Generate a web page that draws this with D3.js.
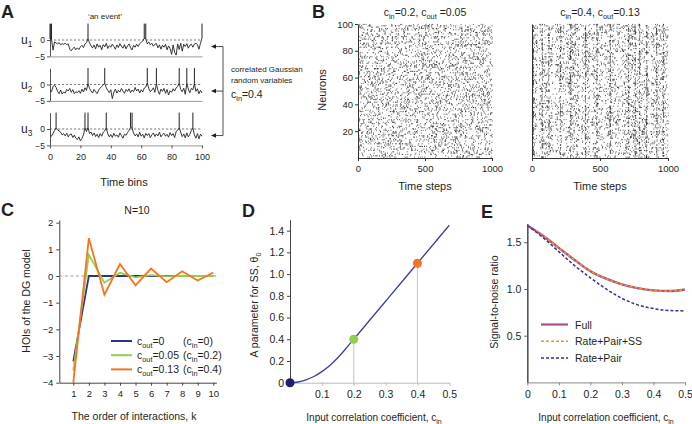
<!DOCTYPE html>
<html><head><meta charset="utf-8">
<script src="https://cdn.jsdelivr.net/npm/d3@7"></script>
<style>body{margin:0;background:#fff}svg{display:block}text{font-family:"Liberation Sans",Arial,Helvetica,sans-serif}</style>
</head><body><svg id="c" width="692" height="424"></svg>
<script>
// ---------------- DATA ----------------
// Panel A: Gaussian variables u1,u2,u3 over 101 time bins
const timeBins = d3.range(0, 101);
const u1 = [0.3,0.2,-3.1,-0.6,-0.9,-1.2,-0.8,-1.5,-1.1,-1.3,
  -1.0,-1.4,-1.2,-2.8,-3.3,-2.6,-2.2,-3.0,-2.4,-2.9,
  -2.1,-1.6,-2.3,-1.2,-0.8,0.4,-0.9,-1.8,-2.4,-1.5,
  -2.7,-1.2,-2.2,-1.6,-3.0,-1.4,-2.1,-1.0,-2.6,-1.7,
  -2.2,-1.3,-2.0,-2.8,-1.5,-2.3,-1.1,-1.9,-2.5,-1.4,
  -2.7,-1.8,-1.2,-2.4,-3.0,-1.6,-2.2,-1.3,-2.0,-1.1,
  -0.7,-0.3,0.5,0.4,-1.2,-0.6,-1.5,-1.0,-1.9,-1.3,
  -1.1,-2.4,-1.5,-2.8,-1.6,-2.2,-1.3,-3.0,-1.8,-2.6,
  -4.4,-1.5,-3.8,-4.6,-1.2,-2.9,-1.0,-3.4,-1.3,-2.0,
  -1.1,-2.5,-1.6,-1.3,-2.2,-1.2,-1.0,-1.4,-2.8,-1.0,
  0.6];
const u2 = [-1.8,-2.2,-0.6,-0.2,-0.9,-2.1,-2.8,-1.7,-2.9,-2.3,
  -2.6,-1.5,-2.0,-1.2,-2.4,-1.6,-2.8,-2.2,-2.5,-1.9,
  -2.7,-1.4,-2.3,-1.0,-1.8,0.3,-1.2,-2.0,-2.6,-1.5,
  -2.2,-2.8,-1.7,-1.1,-0.6,-0.2,0.4,-1.0,-1.8,-2.5,
  -1.6,-4.3,-2.4,-1.4,-2.6,-1.8,-2.3,-1.2,-2.0,-2.7,
  -1.5,-2.1,-1.3,-2.5,-1.7,-2.2,-0.9,-2.0,-1.4,-2.6,
  -1.6,-2.3,-1.1,-0.8,0.5,-1.3,-2.2,-1.7,-1.0,-2.4,
  0.2,-1.8,-3.0,-1.4,-2.1,-1.2,-2.7,-1.5,-3.2,-1.9,
  -2.4,-1.3,-2.0,-1.0,-0.6,0.4,-1.5,-2.2,-1.1,-3.0,
  0.3,-1.4,-2.5,-1.2,-1.6,0.2,-2.1,-1.3,-2.8,-1.8,
  -2.6];
const u3 = [-2.0,-2.2,-1.3,-0.5,0.4,-0.3,-0.6,-1.0,-1.8,-1.4,
  -2.1,-1.3,-2.4,-1.7,-1.5,-2.6,-1.9,-2.8,-3.2,-2.4,
  -3.6,-2.9,-1.8,0.3,-0.8,0.5,-1.4,-0.9,-2.0,-1.2,
  -2.3,-1.6,-2.6,-1.4,-2.2,-1.0,-0.6,0.4,-1.5,-2.4,
  -1.7,-2.6,-1.3,-2.2,-1.8,-2.5,-1.2,-2.0,-2.8,-1.6,
  -1.9,-1.1,-0.4,0.5,0.3,-1.3,-2.1,-1.5,-2.4,-1.0,
  -2.2,-1.6,-2.7,-1.3,-2.0,-1.4,-2.6,-1.8,-1.2,-2.3,
  -1.5,-2.1,-1.0,-2.4,-1.7,-1.3,-2.2,-1.6,-2.5,-1.1,
  -2.0,-1.4,-2.6,-0.8,-0.3,0.4,-1.0,-2.3,-1.5,-2.7,
  -1.2,-2.4,-1.6,-0.5,0.3,-1.8,-2.8,-1.4,-3.0,-1.6,
  -2.2];
const uNames = ["1", "2", "3"];
const uTicks = [0, -5];
const timeTicksA = [0, 20, 40, 60, 80, 100];
const threshold = 0;

// Panel B: raster plots
const neuronIds = d3.range(1, 101);
const nSteps = 1000;
const neuronTicks = [20, 40, 60, 80, 100];
const stepTicks = [0, 500, 1000];
const rateLeft = 0.034;       // spikes per step (left raster)
const rateRight = 0.032;      // background rate (right raster)
const syncTimesRight = [2, 8, 72, 122, 207, 282, 390, 475, 573, 707, 756, 788, 841, 915, 963]; // synchronous columns
const quietTimesRight = [45, 160, 240, 354, 430, 524, 646, 866]; // near-silent columns
const syncRate = 0.18;
const quietRate = 0.008;

// Panel C: higher-order interactions
const orders = [1, 2, 3, 4, 5, 6, 7, 8, 9, 10];
const hoiCout0 = [-3.2, 0, 0, 0, 0, 0, 0, 0, 0, 0];
const hoiCout005 = [-3.55, 0.8, -0.25, 0.12, -0.05, 0.03, -0.01, 0.01, 0, 0];
const hoiCout013 = [-4.0, 1.42, -0.7, 0.45, -0.35, 0.28, -0.23, 0.18, -0.17, 0.13];
const hoiTicks = [-4, -3, -2, -1, 0, 1, 2];
const legendC = [["0", "0"], ["0.05", "0.2"], ["0.13", "0.4"]];

// Panel D: theta0 vs c_in
const cinD = [0, 0.025, 0.05, 0.075, 0.1, 0.125, 0.15, 0.175, 0.2, 0.25, 0.3, 0.35, 0.4, 0.45, 0.5];
const theta0 = [0, 0.0064, 0.0255, 0.057, 0.102, 0.159, 0.23, 0.3125, 0.4, 0.575, 0.75, 0.925, 1.1, 1.275, 1.45];
const markCin = [0, 0.2, 0.4];
const markTheta = [0, 0.4, 1.1];
const thetaTicks = [0, 0.2, 0.4, 0.6, 0.8, 1.0, 1.2, 1.4];
const cinTicksD = [0.1, 0.2, 0.3, 0.4, 0.5];

// Panel E: signal-to-noise ratio
const cinE = [0, 0.05, 0.1, 0.15, 0.2, 0.25, 0.3, 0.35, 0.4, 0.45, 0.5];
const snrFull = [1.68, 1.57, 1.44, 1.31, 1.19, 1.11, 1.05, 1.01, 0.985, 0.978, 0.995];
const snrRatePairSS = [1.68, 1.57, 1.44, 1.31, 1.19, 1.11, 1.05, 1.01, 0.985, 0.978, 0.995];
const snrRatePair = [1.68, 1.55, 1.40, 1.25, 1.12, 1.0, 0.9, 0.83, 0.79, 0.77, 0.765];
const snrTicks = [0.5, 1.0, 1.5];
const cinTicksE = [0, 0.1, 0.2, 0.3, 0.4, 0.5];
const legendE = ["Full", "Rate+Pair+SS", "Rate+Pair"];

// ---------------- DRAWING ----------------
const svg = d3.select("#c");
const INK = "#231f20", AX = "#555";
const BLUE = "#2e3192", GREEN = "#92cf4f", ORANGE = "#f47421", PURPLE = "#a4508f", ORANGE2 = "#f7941d";

function rich(g, x, y, parts, o = {}) {
  const size = o.size || 10;
  const t = g.append("text").attr("x", x).attr("y", y)
    .attr("text-anchor", o.anchor || "start").attr("font-size", size).attr("fill", o.fill || INK);
  if (o.rotate) t.attr("transform", `rotate(${o.rotate},${x},${y})`);
  let shift = 0;
  parts.forEach(p => {
    const isSub = p[1] === "sub";
    const s = t.append("tspan").text(p[0]);
    const target = isSub ? size * 0.25 : 0;
    if (target !== shift) { s.attr("dy", target - shift); shift = target; }
    if (isSub) s.attr("font-size", size * 0.7);
  });
  return t;
}
function panelLabel(x, y, s) {
  svg.append("text").attr("x", x).attr("y", y).attr("font-size", 18).attr("font-weight", "bold").attr("fill", INK).text(s);
}
function styleAxis(g, fs, col) {
  g.selectAll(".domain").attr("stroke", col || AX).attr("stroke-width", 1);
  g.selectAll(".tick line").attr("stroke", col || AX);
  g.selectAll(".tick text").attr("font-size", fs).attr("fill", INK).style("font-family", '"Liberation Sans",Arial,sans-serif');
}

// ===== Panel A =====
panelLabel(1, 18, "A");
const xA = d3.scaleLinear().domain([0, 100]).range([50, 202]);
const zeroA = [40, 84.5, 129];
const traces = [u1, u2, u3];
traces.forEach((vals, i) => {
  const y = d3.scaleLinear().domain([-5, 5]).range([zeroA[i] + 16.4, zeroA[i] - 16.4]);
  const g = svg.append("g");
  const la = g.append("g").attr("transform", `translate(${xA(0)},0)`)
    .call(d3.axisLeft(y).tickValues(uTicks).tickSize(3).tickSizeOuter(0).tickPadding(2));
  styleAxis(la, 8.5);
  const ba = g.append("g").attr("transform", `translate(0,${y(-5)})`)
    .call(i === 2 ? d3.axisBottom(xA).tickValues(timeTicksA).tickSize(3).tickSizeOuter(0).tickPadding(5)
                  : d3.axisBottom(xA).tickValues([]).tickSizeOuter(0));
  styleAxis(ba, 9);
  ba.select(".domain").attr("stroke", "#999");
  g.append("line").attr("x1", xA(0)).attr("x2", xA(100)).attr("y1", y(threshold)).attr("y2", y(threshold))
    .attr("stroke", "#444").attr("stroke-width", 0.7).attr("stroke-dasharray", "2.2,1.8");
  g.append("path").datum(vals).attr("fill", "none").attr("stroke", INK).attr("stroke-width", 0.9)
    .attr("d", d3.line().x((d, k) => xA(timeBins[k])).y(d => y(d)));
  g.selectAll("line.ev").data(timeBins.filter(k => vals[k] > threshold)).join("line")
    .attr("x1", k => xA(k)).attr("x2", k => xA(k)).attr("y1", k => y(vals[k])).attr("y2", y(5))
    .attr("stroke", INK).attr("stroke-width", 1);
  rich(g, 21, zeroA[i] + 4, [["u"], [uNames[i], "sub"]], { size: 12 });
  const ay = y(-2);
  g.append("line").attr("x1", 223).attr("x2", 215).attr("y1", ay).attr("y2", ay).attr("stroke", INK).attr("stroke-width", 0.8);
  g.append("path").attr("d", `M211,${ay}L216,${ay - 2.2}L216,${ay + 2.2}Z`).attr("fill", INK);
});
{
  const yTop = d3.scaleLinear().domain([-5, 5]).range([zeroA[0] + 16.4, zeroA[0] - 16.4])(-2);
  const yBot = d3.scaleLinear().domain([-5, 5]).range([zeroA[2] + 16.4, zeroA[2] - 16.4])(-2);
  svg.append("line").attr("x1", 223).attr("x2", 223).attr("y1", yTop).attr("y2", yBot).attr("stroke", INK).attr("stroke-width", 0.8);
}
svg.append("text").attr("x", 105).attr("y", 19).attr("text-anchor", "middle").attr("font-size", 8).attr("fill", INK).text("\u2018an event\u2019");
svg.append("text").attr("x", 124).attr("y", 186).attr("text-anchor", "middle").attr("font-size", 11).attr("fill", INK).text("Time bins");
svg.append("text").attr("x", 231).attr("y", 72).attr("font-size", 8).attr("fill", INK).text("correlated Gaussian");
svg.append("text").attr("x", 231).attr("y", 83).attr("font-size", 8).attr("fill", INK).text("random variables");
rich(svg, 231, 98, [["c"], ["in", "sub"], ["=0.4"]], { size: 10.5 });

// ===== Panel B =====
panelLabel(312, 18, "B");
function texture(seed) { // deterministic spike texture generator
  let a = seed >>> 0;
  return () => { a = (a + 0x6D2B79F5) >>> 0; let t = a; t = Math.imul(t ^ (t >>> 15), t | 1); t ^= t + Math.imul(t ^ (t >>> 7), t | 61); return ((t ^ (t >>> 14)) >>> 0) / 4294967296; };
}
function raster(x0, x1, showY, title, rate, syncTimes, quietTimes, seed) {
  const xs = d3.scaleLinear().domain([0, nSteps]).range([x0, x1]);
  const ys = d3.scaleLinear().domain([0, 100]).range([158, 24]);
  const g = svg.append("g");
  const rnd = texture(seed);
  const spikes = [];
  const syncSet = new Set(), quietSet = new Set();
  syncTimes.forEach(t => { for (let k = -2; k <= 2; k++) syncSet.add(t + k); });
  quietTimes.forEach(t => { for (let k = -6; k <= 6; k++) quietSet.add(t + k); });
  for (let t = 0; t < nSteps; t++) {
    const p = syncSet.has(t) ? syncRate : (quietSet.has(t) ? quietRate : rate);
    neuronIds.forEach(n => { if (rnd() < p) spikes.push([t, n]); });
  }
  g.selectAll("rect").data(spikes).join("rect")
    .attr("x", d => xs(d[0])).attr("y", d => ys(d[1]) - 0.1).attr("width", 0.8).attr("height", 1.15)
    .attr("fill", "#111").attr("fill-opacity", 0.75);
  const ba = g.append("g").attr("transform", `translate(0,158)`)
    .call(d3.axisBottom(xs).tickValues(stepTicks).tickSize(3).tickSizeOuter(0).tickPadding(4).tickFormat(d3.format("d")));
  styleAxis(ba, 9.5, "#333");
  const la = g.append("g").attr("transform", `translate(${x0},0)`)
    .call(d3.axisLeft(ys).tickValues(showY ? neuronTicks : []).tickSize(3).tickSizeOuter(0).tickPadding(2));
  styleAxis(la, 9.5, "#333");
  g.append("text").attr("x", (x0 + x1) / 2).attr("y", 190).attr("text-anchor", "middle").attr("font-size", 11).attr("fill", INK).text("Time steps");
  rich(g, (x0 + x1) / 2, 16, title, { size: 10.5, anchor: "middle" });
}
raster(358, 492, true, [["c"], ["in", "sub"], ["=0.2, c"], ["out", "sub"], [" =0.05"]], rateLeft, [], [], 12345);
raster(532, 668, false, [["c"], ["in", "sub"], ["=0.4, c"], ["out", "sub"], ["=0.13"]], rateRight, syncTimesRight, quietTimesRight, 987);
svg.append("text").attr("x", 326).attr("y", 90).attr("text-anchor", "middle").attr("font-size", 11).attr("fill", INK)
  .attr("transform", "rotate(-90,326,90)").text("Neurons");

// ===== Panel C =====
panelLabel(1, 216, "C");
{
  const xs = d3.scaleLinear().domain([0.1, 10.2]).range([59.3, 216.4]);
  const ys = d3.scaleLinear().domain([-4, 2.1]).range([382.7, 220]);
  const g = svg.append("g");
  const la = g.append("g").attr("transform", `translate(${xs(0.1)},0)`)
    .call(d3.axisLeft(ys).tickValues(hoiTicks).tickSize(3).tickSizeOuter(0).tickPadding(3).tickFormat(d3.format("d")));
  styleAxis(la, 9.5, "#444");
  const ba = g.append("g").attr("transform", `translate(0,${ys(-4)})`)
    .call(d3.axisBottom(xs).tickValues(orders).tickSize(3).tickSizeOuter(0).tickPadding(5));
  styleAxis(ba, 9.5, "#444");
  g.append("line").attr("x1", xs(0.1)).attr("x2", xs(10.2)).attr("y1", ys(0)).attr("y2", ys(0))
    .attr("stroke", "#999").attr("stroke-width", 1).attr("stroke-dasharray", "3,2.5");
  const line = d3.line().x((d, k) => xs(orders[k])).y(d => ys(d));
  [[hoiCout0, BLUE], [hoiCout005, GREEN], [hoiCout013, ORANGE]].forEach(([v, c]) => {
    g.append("path").datum(v).attr("fill", "none").attr("stroke", c).attr("stroke-width", 1.8).attr("d", line);
  });
  [BLUE, GREEN, ORANGE].forEach((c, i) => {
    const yy = 341 + i * 14.2;
    g.append("line").attr("x1", 111).attr("x2", 132).attr("y1", yy).attr("y2", yy).attr("stroke", c).attr("stroke-width", 2);
    rich(g, 137, yy + 4, [["c"], ["out", "sub"], ["=" + legendC[i][0]]], { size: 10.5 });
    rich(g, 183, yy + 4, [["(c"], ["in", "sub"], ["=" + legendC[i][1] + ")"]], { size: 10.5 });
  });
  g.append("text").attr("x", 137).attr("y", 214).attr("text-anchor", "middle").attr("font-size", 10.5).attr("fill", INK).text("N=10");
  g.append("text").attr("x", 134).attr("y", 420).attr("text-anchor", "middle").attr("font-size", 10.5).attr("fill", INK).text("The order of interactions, k");
  g.append("text").attr("x", 30).attr("y", 301).attr("text-anchor", "middle").attr("font-size", 10.5).attr("fill", INK)
    .attr("transform", "rotate(-90,30,301)").text("HOIs of the DG model");
}

// ===== Panel D =====
panelLabel(242, 217, "D");
{
  const xs = d3.scaleLinear().domain([0, 0.5]).range([290, 449.3]);
  const ys = d3.scaleLinear().domain([0, 1.5]).range([382.7, 219.8]);
  const g = svg.append("g");
  const la = g.append("g").attr("transform", `translate(${xs(0)},0)`)
    .call(d3.axisLeft(ys).tickValues(thetaTicks).tickSize(3).tickSizeOuter(0).tickPadding(3)
      .tickFormat(d => d === 0 ? "0" : d3.format(".1f")(d)));
  styleAxis(la, 10.5, "#444");
  const ba = g.append("g").attr("transform", `translate(0,${ys(0)})`)
    .call(d3.axisBottom(xs).tickValues(cinTicksD).tickSize(3).tickSizeOuter(0).tickPadding(5).tickFormat(d3.format(".1f")));
  styleAxis(ba, 10.5, "#bbb");
  markCin.slice(1).forEach((c, i) => {
    g.append("line").attr("x1", xs(c)).attr("x2", xs(c)).attr("y1", ys(markTheta[i + 1])).attr("y2", ys(0))
      .attr("stroke", "#c9c9e6").attr("stroke-width", 1.2);
  });
  g.append("path").datum(theta0).attr("fill", "none").attr("stroke", "#3d3da0").attr("stroke-width", 1.3)
    .attr("d", d3.line().x((d, k) => xs(cinD[k])).y(d => ys(d)).curve(d3.curveMonotoneX));
  const dotCols = ["#1f1f6e", GREEN, ORANGE];
  markCin.forEach((c, i) => {
    g.append("circle").attr("cx", xs(c)).attr("cy", ys(markTheta[i])).attr("r", 4.5).attr("fill", dotCols[i]);
  });
  rich(g, 374, 421, [["Input correlation coefficient, c"], ["in", "sub"]], { size: 10, anchor: "middle" });
  rich(g, 258, 305, [["A parameter for SS,  \u03b8"], ["0", "sub"]], { size: 10.5, anchor: "middle", rotate: -90 });
}

// ===== Panel E =====
panelLabel(481, 218, "E");
{
  const xs = d3.scaleLinear().domain([0, 0.5]).range([527.3, 685]);
  const ys = d3.scaleLinear().domain([0, 1.7]).range([382.4, 223.6]);
  const g = svg.append("g");
  const la = g.append("g").attr("transform", `translate(${xs(0)},0)`)
    .call(d3.axisLeft(ys).tickValues(snrTicks).tickSize(3).tickSizeOuter(0).tickPadding(3).tickFormat(d3.format(".1f")));
  styleAxis(la, 10.5, "#555");
  la.select(".domain").attr("stroke-width", 1.6);
  const ba = g.append("g").attr("transform", `translate(0,${ys(0)})`)
    .call(d3.axisBottom(xs).tickValues(cinTicksE).tickSize(3).tickSizeOuter(0).tickPadding(5)
      .tickFormat(d => d === 0 ? "0" : d3.format(".1f")(d)));
  styleAxis(ba, 10.5, "#888");
  const line = d3.line().x((d, k) => xs(cinE[k])).y(d => ys(d)).curve(d3.curveMonotoneX);
  g.append("path").datum(snrFull).attr("fill", "none").attr("stroke", PURPLE).attr("stroke-width", 2.4).attr("d", line);
  g.append("path").datum(snrRatePairSS).attr("fill", "none").attr("stroke", ORANGE2).attr("stroke-width", 1.5).attr("stroke-dasharray", "3,2").attr("d", line);
  g.append("path").datum(snrRatePair).attr("fill", "none").attr("stroke", BLUE).attr("stroke-width", 1.5).attr("stroke-dasharray", "3,2").attr("d", line);
  const legStyle = [[PURPLE, 2.2, null], [ORANGE2, 1.5, "3,2"], [BLUE, 1.5, "3,2"]];
  legendE.forEach((name, i) => {
    const yy = 324.5 + i * 16.8;
    const l = g.append("line").attr("x1", 541).attr("x2", 568).attr("y1", yy).attr("y2", yy)
      .attr("stroke", legStyle[i][0]).attr("stroke-width", legStyle[i][1]);
    if (legStyle[i][2]) l.attr("stroke-dasharray", legStyle[i][2]);
    g.append("text").attr("x", 575).attr("y", yy + 4).attr("font-size", 10.5).attr("fill", INK).text(name);
  });
  rich(g, 606, 421, [["Input correlation coefficient, c"], ["in", "sub"]], { size: 10, anchor: "middle" });
  g.append("text").attr("x", 498).attr("y", 302).attr("text-anchor", "middle").attr("font-size", 10.5).attr("fill", INK)
    .attr("transform", "rotate(-90,498,302)").text("Signal-to-noise ratio");
}
</script></body></html>
